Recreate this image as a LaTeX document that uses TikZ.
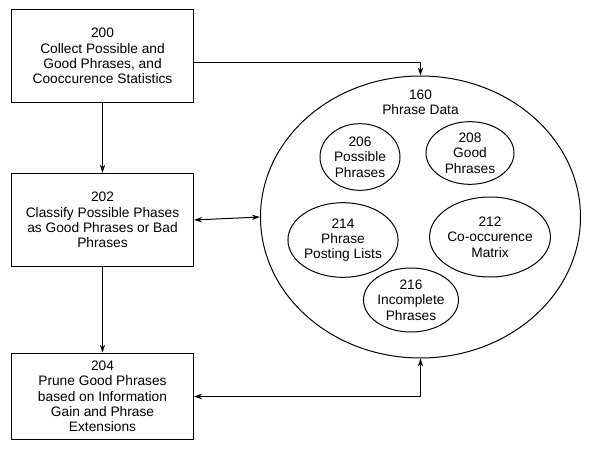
\documentclass[tikz,border=0pt]{standalone}
\usepackage{fontspec}
\setmainfont{Liberation Sans}
\usetikzlibrary{arrows.meta,shapes.geometric}
\tikzset{every picture/.style={line width=0.75pt}}
\begin{document}
\begin{tikzpicture}[x=0.75pt,y=0.75pt,yscale=-1,xscale=1,
  box/.style={draw,minimum width=136.5pt,minimum height=70pt,align=center,inner sep=1pt,font=\fontsize{10.3}{11.5}\selectfont},
  oval/.style={draw,ellipse,align=center,inner sep=0pt,font=\fontsize{10.3}{11.5}\selectfont},
  arr/.style={-{Stealth[length=6pt,width=4pt]}},
  darr/.style={{Stealth[length=6pt,width=4pt]}-{Stealth[length=6pt,width=4pt]}}]
\useasboundingbox (0,0) rectangle (611,457);
%Boxes
\node (b200) [box] at (102.5,56) {200\\Collect Possible and\\Good Phrases, and\\Cooccurence Statistics};
\node (b202) [box] at (102.5,220) {202\\Classify Possible Phases\\as Good Phrases or Bad\\Phrases};
\node (b204) [box,minimum height=65pt] at (102.5,396.5) {204\\Prune Good Phrases\\based on Information\\Gain and Phrase\\Extensions};
%Phrase data
\node (pd) [draw,ellipse,minimum width=240pt,minimum height=211.5pt] at (420.5,217) {};
\node (t160) at (420.5,102) [align=center,font=\fontsize{10.3}{11.5}\selectfont] {160\\Phrase Data};
\node (e206) [oval,minimum width=60pt,minimum height=50pt] at (360,157) {206\\Possible\\Phrases};
\node (e208) [oval,minimum width=66pt,minimum height=47pt] at (470,153) {208\\Good\\Phrases};
\node (e214) [oval,minimum width=68pt,minimum height=56pt] at (343,240) {214\\Phrase\\Posting Lists};
\node (e212) [oval,minimum width=69pt,minimum height=60pt] at (490,237) {212\\Co-occurence\\Matrix};
\node (e216) [oval,minimum width=66pt,minimum height=48pt] at (411,300) {216\\Incomplete\\Phrases};
%Connectors
\draw [arr] (b200.south) -- (b202.north);
\draw [arr] (b202.south) -- (b204.north);
\draw [arr] (b200.east |- 0,62) -| (pd.north);
\draw [darr] (b202.east) -- (pd.west);
\draw [darr] (b204.east) -| (pd.south);
\end{tikzpicture}
\end{document}
